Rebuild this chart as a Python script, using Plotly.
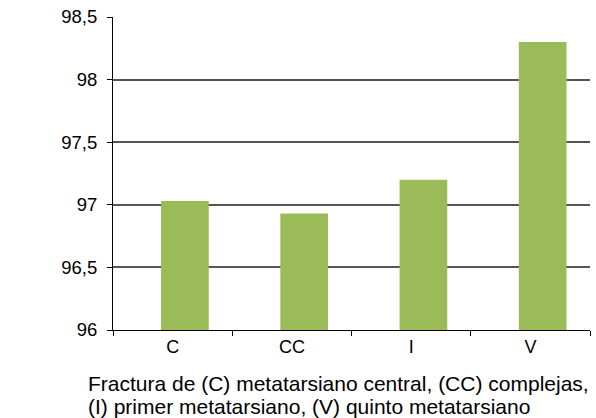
import plotly.graph_objects as go

categories = ["C", "CC", "I", "V"]
values = [97.03, 96.93, 97.2, 98.3]
y_ticks = [96, 96.5, 97, 97.5, 98, 98.5]
caption_lines = [
    "Fractura de (C) metatarsiano central, (CC) complejas,",
    "(I) primer metatarsiano, (V) quinto metatarsiano",
]

FONT = "Liberation Sans, Arial, Helvetica, sans-serif"
PLOT_L, PLOT_R, PLOT_T, PLOT_B = 113, 590, 17, 330
W, H = 596, 418

fig = go.Figure(go.Bar(
    x=categories, y=values,
    marker=dict(color="#9BBB59", line=dict(width=0)),
    width=0.4, offset=-0.097,
    hoverinfo="skip",
))

def px_y(py):
    return (PLOT_B - py) / (PLOT_B - PLOT_T)

def px_x(px):
    return (px - PLOT_L) / (PLOT_R - PLOT_L)

annotations = []
for line, cy in zip(caption_lines, [383, 406]):
    annotations.append(dict(
        text=line, xref="paper", yref="paper",
        x=px_x(86), y=px_y(cy), xanchor="left", yanchor="middle",
        align="left", showarrow=False, font=dict(size=21),
    ))

fig.update_layout(
    width=W, height=H,
    margin=dict(l=PLOT_L, r=W - PLOT_R, t=PLOT_T, b=H - PLOT_B),
    paper_bgcolor="white", plot_bgcolor="white",
    separators=", ",
    showlegend=False,
    font=dict(family=FONT, size=18, color="black"),
    xaxis=dict(
        showline=True, linecolor="black", linewidth=1,
        ticks="outside", tickson="boundaries", ticklen=5, tickcolor="black",
        showgrid=False, tickfont=dict(size=18),
    ),
    yaxis=dict(
        range=[96, 98.5], tickvals=y_ticks,
        showline=True, linecolor="black", linewidth=1,
        ticks="outside", ticklen=5, tickcolor="black",
        ticklabelstandoff=6,
        showgrid=True, gridcolor="#555555", gridwidth=1.5,
        zeroline=False, tickfont=dict(size=18.5),
    ),
    annotations=annotations,
)

fig.write_html(
    "out.html",
    config={"displayModeBar": False},
    post_script="document.body.style.margin='0';document.body.style.overflow='hidden';",
)
